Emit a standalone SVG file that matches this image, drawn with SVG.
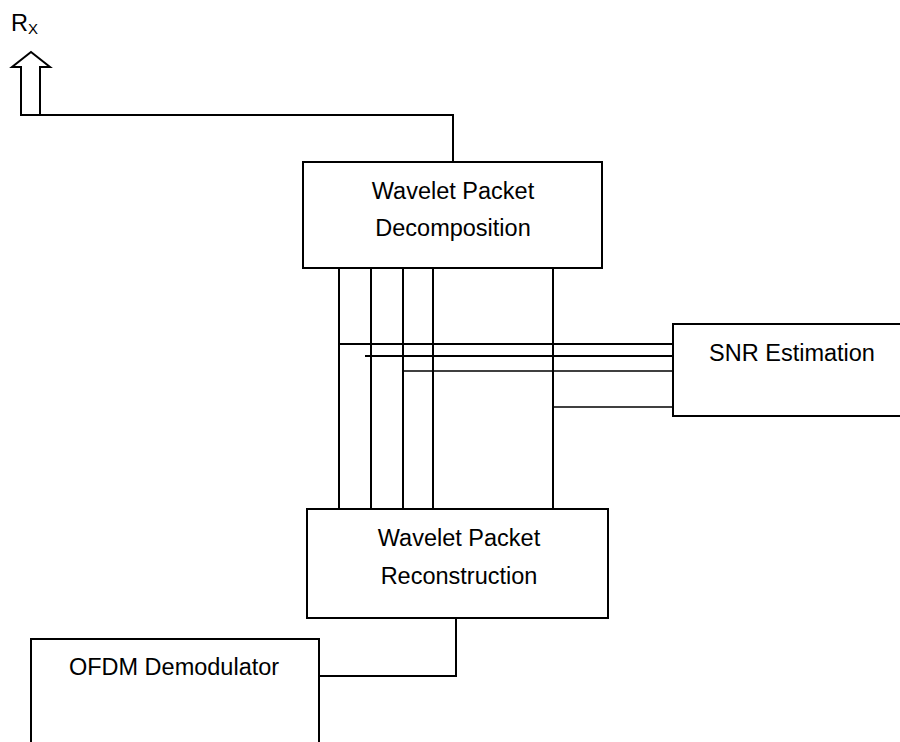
<svg xmlns="http://www.w3.org/2000/svg" width="900" height="742" viewBox="0 0 900 742">
<style>
.box{fill:#fff;stroke:#000;stroke-width:2}
.ln{fill:none;stroke:#000;stroke-width:2}
.thin{fill:none;stroke:#000;stroke-width:1.5}
text{font-family:"Liberation Sans",Arial,sans-serif;font-size:23.5px;fill:#000}
.c{text-anchor:middle}
</style>
<rect width="900" height="742" fill="#fff"/>
<g id="connectors">
<polyline class="ln" points="40,115 453,115 453,162"/>
<line class="ln" x1="339" y1="268" x2="339" y2="509"/>
<line class="ln" x1="371" y1="268" x2="371" y2="509"/>
<line class="ln" x1="403" y1="268" x2="403" y2="509"/>
<line class="ln" x1="433" y1="268" x2="433" y2="509"/>
<line class="ln" x1="553" y1="268" x2="553" y2="509"/>
<line class="ln" x1="338" y1="344" x2="673" y2="344"/>
<line class="ln" x1="365" y1="356" x2="673" y2="356"/>
<line class="thin" x1="403" y1="371" x2="673" y2="371"/>
<line class="thin" x1="553" y1="407" x2="673" y2="407"/>
<polyline class="ln" points="456,618 456,676 319,676"/>
</g>
<g id="rx">
<text x="11" y="31" font-size="23">R<tspan font-size="15" dy="3">X</tspan></text>
<polygon class="ln" points="21,115 21,67 12,67 31,52 50,67 40,67 40,115"/>
</g>
<g id="decomposition">
<rect class="box" x="303" y="162" width="299" height="106"/>
<text class="c" x="453" y="199">Wavelet Packet</text>
<text class="c" x="453" y="236">Decomposition</text>
</g>
<g id="snr">
<rect class="box" x="673" y="324" width="240" height="92"/>
<text class="c" x="792" y="361">SNR Estimation</text>
</g>
<g id="reconstruction">
<rect class="box" x="307" y="509" width="301" height="109"/>
<text class="c" x="459" y="546">Wavelet Packet</text>
<text class="c" x="459" y="584">Reconstruction</text>
</g>
<g id="ofdm">
<path class="ln" d="M31,745 V639 H319 V745"/>
<text class="c" x="174" y="675">OFDM Demodulator</text>
</g>
</svg>
